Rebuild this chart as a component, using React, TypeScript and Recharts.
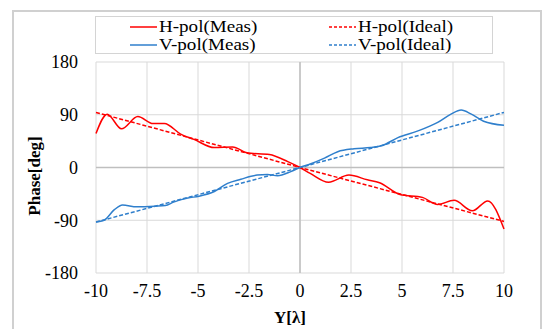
import React from "react";
import {
  CartesianGrid,
  Label,
  Line,
  LineChart,
  ReferenceLine,
  XAxis,
  YAxis,
} from "recharts";

const hMeasX = [-10, -9.45, -8.75, -7.95, -7.2, -6.65, -5.85, -5.2, -4.2, -3.3, -2.6, -1.5, -0.6, 0, 0.5, 1.4, 2.4, 3.3, 3.9, 4.9, 6.0, 6.75, 7.55, 8.45, 9.2, 10];
const hMeasY = [58, 91, 66, 87, 75, 75, 57, 48, 34, 35, 25, 22, 10, 0, -10, -25, -13, -21, -26, -46, -51, -63, -56, -74, -57, -105];

const vMeasX = [-10, -9.6, -9.1, -8.7, -8.0, -7.1, -6.6, -6.2, -5.5, -4.95, -4.2, -3.55, -2.9, -2.1, -1.6, -1.1, -0.45, 0, 0.5, 1.2, 1.85, 2.65, 3.45, 4.0, 4.8, 5.75, 6.75, 7.4, 7.9, 8.4, 9.0, 10];
const vMeasY = [-93, -90, -72, -64, -67, -66, -65, -59, -52, -49, -41, -27, -20, -13, -12, -14, -7, 0, 6, 16, 27, 32, 34, 37, 51, 62, 77, 91, 98, 91, 79, 72];

// ideal straight lines
const idealX = [-10, 0, 10];
const hIdealY = [94, 0, -92];
const vIdealY = [-93, 0, 94];

const xTicks = [-10, -7.5, -5, -2.5, 0, 2.5, 5, 7.5, 10];
const yTicks = [-180, -90, 0, 90, 180];

const toRows = (xs: number[], ys: number[]) => xs.map((x, i) => ({ x, y: ys[i] }));

const hMeas = toRows(hMeasX, hMeasY);
const vMeas = toRows(vMeasX, vMeasY);
const hIdeal = toRows(idealX, hIdealY);
const vIdeal = toRows(idealX, vIdealY);

const RED = "#ff0000";
const BLUE = "#2f7fcc";
const FONT = "Liberation Serif, Times New Roman, serif";

const legendItems = [
  { name: "H-pol(Meas)", color: RED, dash: false },
  { name: "H-pol(Ideal)", color: RED, dash: true },
  { name: "V-pol(Meas)", color: BLUE, dash: false },
  { name: "V-pol(Ideal)", color: BLUE, dash: true },
];

function LegendBox() {
  return (
    <div
      style={{
        position: "absolute",
        left: 95,
        top: 16,
        width: 398,
        height: 38,
        border: "1.5px solid #d4d4d4",
        boxSizing: "border-box",
        fontFamily: FONT,
        fontSize: 17,
        lineHeight: "17px",
        color: "#000",
      }}
    >
      {legendItems.map((it, i) => (
        <div
          key={it.name}
          style={{
            position: "absolute",
            left: i % 2 === 0 ? 34 : 233,
            top: i < 2 ? 1 : 19,
            height: 17,
            display: "flex",
            alignItems: "center",
            whiteSpace: "nowrap",
          }}
        >
          <svg width={27} height={4} style={{ marginRight: 2 }}>
            <line
              x1={0}
              y1={2}
              x2={27}
              y2={2}
              stroke={it.color}
              strokeWidth={1.5}
              strokeDasharray={it.dash ? "3 2" : undefined}
            />
          </svg>
          <span style={{ transform: "scaleX(1.12)", transformOrigin: "left center", display: "inline-block" }}>
            {it.name}
          </span>
        </div>
      ))}
    </div>
  );
}

const tickStyle = { fill: "#000", fontSize: 18, fontFamily: FONT };

export default function App() {
  return (
    <div
      style={{
        position: "absolute",
        left: 0,
        top: 0,
        width: 544,
        height: 329,
        overflow: "hidden",
        background: "#fff",
        fontFamily: FONT,
      }}
    >
      <div
        style={{
          position: "absolute",
          left: 12,
          top: 10,
          width: 530,
          height: 340,
          border: "2px solid #d0d0d0",
          boxSizing: "border-box",
        }}
      />
      <LineChart
        width={544}
        height={329}
        margin={{ top: 62, right: 40, bottom: 0, left: 16 }}
        style={{ fontFamily: FONT }}
      >
        <CartesianGrid stroke="#d9d9d9" strokeWidth={1} />
        <XAxis
          type="number"
          dataKey="x"
          domain={[-10, 10]}
          ticks={xTicks}
          axisLine={false}
          tickLine={false}
          tickSize={0}
          tickMargin={11}
          height={56}
          tick={tickStyle}
          allowDuplicatedCategory={false}
        >
          <Label
            value="Y[λ]"
            position="insideBottom"
            offset={6}
            dx={-10}
            style={{ fontWeight: "bold", fontSize: 17, fill: "#000", fontFamily: FONT }}
          />
        </XAxis>
        <YAxis
          type="number"
          domain={[-180, 180]}
          ticks={yTicks}
          axisLine={false}
          tickLine={false}
          tickSize={0}
          tickMargin={18}
          width={80}
          tick={tickStyle}
        >
          <Label
            content={() => (
              <text
                x={34}
                y={176}
                transform="rotate(-90 34 176)"
                textAnchor="middle"
                dominantBaseline="central"
                style={{ fontWeight: "bold", fontSize: 17, fill: "#000", fontFamily: FONT }}
              >
                Phase[deg]
              </text>
            )}
          />
        </YAxis>
        <ReferenceLine x={0} stroke="#bfbfbf" strokeWidth={1.5} />
        <ReferenceLine y={0} stroke="#bfbfbf" strokeWidth={1.5} />
        <Line data={hIdeal} dataKey="y" name="H-pol(Ideal)" stroke={RED} strokeWidth={1.5} strokeDasharray="4 2" dot={false} isAnimationActive={false} />
        <Line data={vIdeal} dataKey="y" name="V-pol(Ideal)" stroke={BLUE} strokeWidth={1.5} strokeDasharray="4 2" dot={false} isAnimationActive={false} />
        <Line data={hMeas} dataKey="y" name="H-pol(Meas)" type="monotone" stroke={RED} strokeWidth={1.5} dot={false} isAnimationActive={false} />
        <Line data={vMeas} dataKey="y" name="V-pol(Meas)" type="monotone" stroke={BLUE} strokeWidth={1.5} dot={false} isAnimationActive={false} />
      </LineChart>
      <LegendBox />
    </div>
  );
}
